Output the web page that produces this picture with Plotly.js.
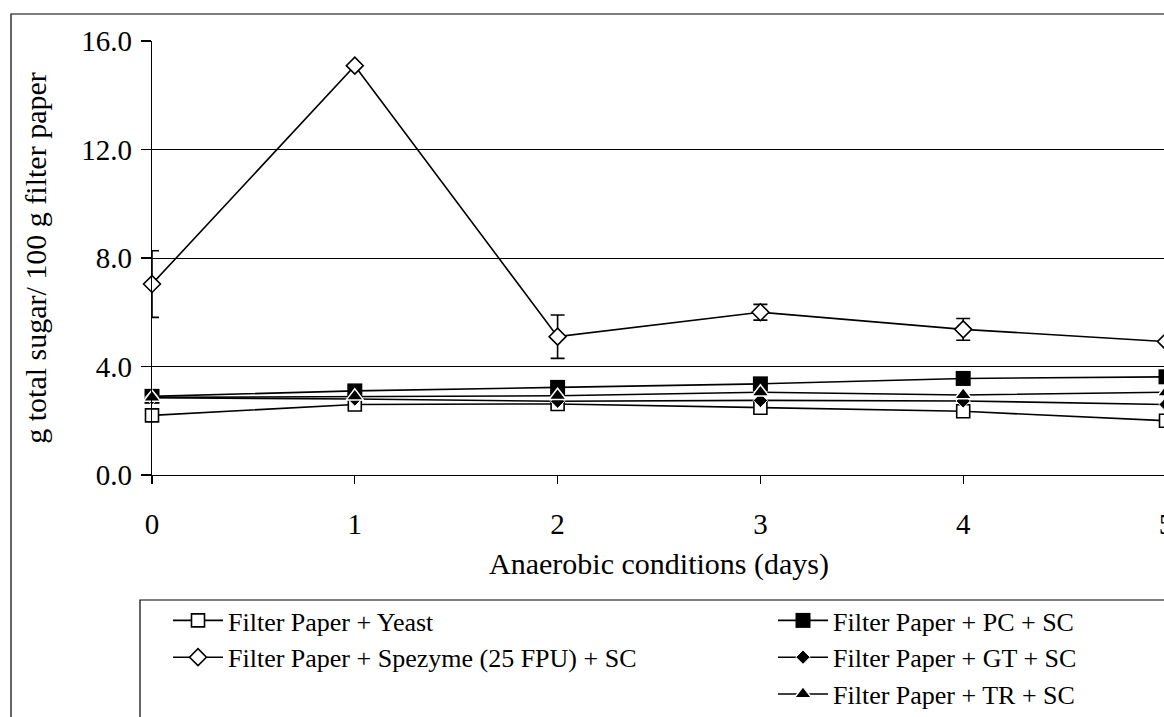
<!DOCTYPE html>
<html>
<head>
<meta charset="utf-8">
<script src="https://cdn.plot.ly/plotly-3.0.1.min.js"></script>
<style>
html, body { margin: 0; padding: 0; overflow: hidden; background: #fff; }
#chart { width: 1200px; height: 717px; }
</style>
</head>
<body>
<div id="chart"></div>
<script>
// Data
var days = [0, 1, 2, 3, 4, 5];
var yeast = [2.2, 2.6, 2.62, 2.48, 2.35, 2.0];
var spezyme = [7.04, 15.09, 5.1, 6.0, 5.37, 4.92];
var spezymeErr = [1.23, null, 0.8, 0.29, 0.4, null];
var pcSC = [2.9, 3.1, 3.23, 3.36, 3.56, 3.62];
var gtSC = [2.85, 2.8, 2.72, 2.75, 2.73, 2.6];
var trSC = [2.86, 2.9, 2.92, 3.05, 2.95, 3.05];
var seriesNames = [
  "Filter Paper + Yeast",
  "Filter Paper + Spezyme (25 FPU) + SC",
  "Filter Paper + PC + SC",
  "Filter Paper + GT + SC",
  "Filter Paper + TR + SC"
];
var yTicks = [0, 4, 8, 12, 16];

var FONT = '"Liberation Serif", "Times New Roman", serif';
var lineStyle = {color: "#000", width: 1.6};

var traces = [
  {x: days, y: yeast, name: seriesNames[0], mode: "lines+markers", line: lineStyle,
   marker: {symbol: "square", size: 13, color: "#fff", line: {color: "#000", width: 1.6}},
   cliponaxis: false, legend: "legend"},
  {x: days, y: spezyme, name: seriesNames[1], mode: "lines+markers", line: lineStyle,
   marker: {symbol: "diamond", size: 13, color: "#fff", line: {color: "#000", width: 1.6}},
   error_y: {type: "data", array: spezymeErr, visible: true, color: "#000", thickness: 1.6, width: 7},
   cliponaxis: false, legend: "legend"},
  {x: days, y: pcSC, name: seriesNames[2], mode: "lines+markers", line: lineStyle,
   marker: {symbol: "square", size: 15, color: "#000", line: {color: "#000", width: 0}},
   cliponaxis: false, legend: "legend2"},
  {x: days, y: gtSC, name: seriesNames[3], mode: "lines+markers", line: lineStyle,
   marker: {symbol: "diamond", size: 11, color: "#000", line: {color: "#fff", width: 1}},
   cliponaxis: false, legend: "legend2"},
  {x: days, y: trSC, name: seriesNames[4], mode: "lines+markers", line: lineStyle,
   marker: {symbol: "triangle-up", size: 15, color: "#000", line: {color: "#fff", width: 1.5}},
   cliponaxis: false, legend: "legend2"}
];

var L = 152, R = 1166, T = 41, B = 475, W = 1200, H = 717;
function px(x) { return (x - L) / (R - L); }
function py(y) { return (B - y) / (B - T); }

var legendCommon = {
  bgcolor: "rgba(0,0,0,0)", borderwidth: 0, orientation: "v",
  xanchor: "left", yanchor: "top", tracegroupgap: 0, itemwidth: 50,
  font: {family: FONT, size: 26, color: "#000"}
};

var layout = {
  width: W, height: H,
  margin: {l: L, r: W - R, t: T, b: H - B, pad: 0, autoexpand: false},
  paper_bgcolor: "#fff", plot_bgcolor: "#fff",
  font: {family: FONT, color: "#000"},
  showlegend: true,
  legend: Object.assign({}, legendCommon, {x: px(168), y: py(597)}),
  legend2: Object.assign({}, legendCommon, {x: px(773), y: py(597)}),
  xaxis: {
    range: [0, 5], tickmode: "array", tickvals: days, ticktext: days.map(String),
    showline: true, linecolor: "#000", linewidth: 1.3,
    ticks: "outside", ticklen: 8, tickcolor: "#000", tickwidth: 1.3,
    showgrid: false, zeroline: false,
    tickfont: {family: FONT, size: 29, color: "#000"}, ticklabelstandoff: 15,
    title: {text: "Anaerobic conditions (days)", font: {family: FONT, size: 30, color: "#000"}, standoff: 14},
    automargin: false
  },
  yaxis: {
    range: [0, 16], tickmode: "array", tickvals: yTicks, ticktext: yTicks.map(function(v){return v.toFixed(1);}),
    showline: true, linecolor: "#000", linewidth: 1.3,
    ticks: "outside", ticklen: 10, tickcolor: "#000", tickwidth: 1.3,
    showgrid: true, gridcolor: "#000", gridwidth: 1, zeroline: false,
    tickfont: {family: FONT, size: 29, color: "#000"}, ticklabelstandoff: 3,
    title: {text: "g total sugar/ 100 g filter paper", font: {family: FONT, size: 30, color: "#000"}, standoff: 25},
    automargin: false
  },
  shapes: [
    {type: "rect", xref: "paper", yref: "paper", x0: px(11), x1: 1.2, y0: -0.8, y1: py(14),
     line: {color: "#000", width: 1.2}, fillcolor: "rgba(0,0,0,0)", layer: "below"},
    {type: "rect", xref: "paper", yref: "paper", x0: px(140), x1: 1.2, y0: -0.8, y1: py(600),
     line: {color: "#000", width: 1.2}, fillcolor: "rgba(0,0,0,0)", layer: "below"}
  ]
};

Plotly.newPlot("chart", traces, layout, {displayModeBar: false, staticPlot: true});
</script>
</body>
</html>
